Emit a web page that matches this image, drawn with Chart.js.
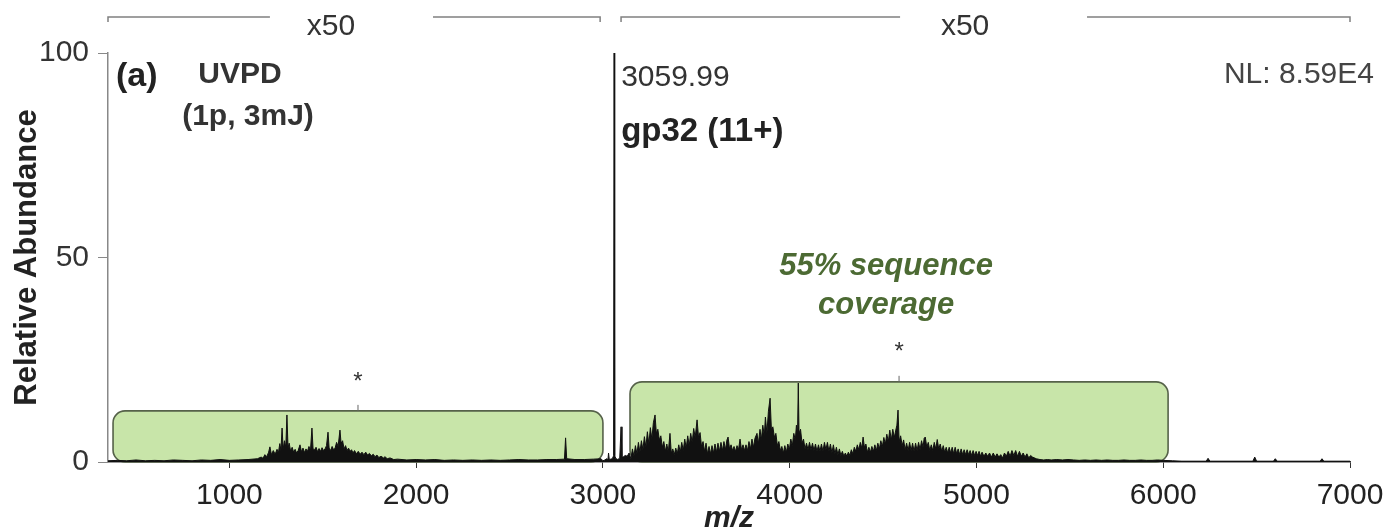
<!DOCTYPE html>
<html>
<head>
<meta charset="utf-8">
<script src="https://cdn.jsdelivr.net/npm/chart.js@4.4.1/dist/chart.umd.min.js"></script>
<style>
  html, body { margin: 0; padding: 0; background: #ffffff; }
  #wrap { width: 1396px; height: 529px; }
</style>
</head>
<body>
<div id="wrap"><canvas id="spectrum" width="1396" height="529"></canvas></div>
<script>
// UVPD spectrum of gp32 (11+), precursor at m/z 3059.99.
// Abundances are given as displayed (fragment regions shown x50).

const xTickValues = [1000, 2000, 3000, 4000, 5000, 6000, 7000];
const yTickValues = [0, 50, 100];

// low m/z fragment region (x50)
const lowMassPeaks = [
  [350, 0.3], [400, 0.4], [450, 0.3], [500, 0.5], [550, 0.3], [600, 0.4], [650, 0.3], [700, 0.5],
  [750, 0.4], [800, 0.3], [850, 0.5], [900, 0.4], [950, 0.6], [1000, 0.4], [1050, 0.5], [1100, 0.6],
  [1150, 0.8], [1170, 1.2], [1180, 0.9], [1190, 1.8], [1200, 1.3], [1210, 2.4], [1217, 3.7], [1225, 1.8],
  [1235, 2.8], [1245, 1.9], [1255, 3.1], [1262, 2.2], [1270, 4.5], [1276, 2.8], [1282, 8.3], [1288, 3.2],
  [1295, 5.2], [1302, 3.6], [1308, 11.5], [1314, 3.4], [1320, 4.6], [1328, 2.6], [1336, 3.6], [1344, 2.4],
  [1352, 3.1], [1360, 2.2], [1368, 2.8], [1378, 4.2], [1386, 2.5], [1394, 3.4], [1402, 2.3], [1410, 3.2],
  [1418, 2.6], [1426, 3.8], [1434, 2.8], [1442, 8.3], [1448, 3.2], [1456, 3.0], [1464, 3.6], [1472, 2.5],
  [1480, 3.3], [1488, 2.6], [1496, 3.5], [1504, 2.8], [1512, 3.2], [1520, 4.0], [1528, 7.3], [1534, 3.4],
  [1542, 2.8], [1550, 3.8], [1558, 3.0], [1566, 3.4], [1574, 4.8], [1582, 3.8], [1592, 7.8], [1598, 4.6],
  [1606, 5.2], [1614, 3.2], [1622, 4.0], [1630, 2.8], [1638, 3.4], [1646, 2.6], [1654, 3.0], [1662, 2.2],
  [1670, 2.8], [1680, 2.0], [1690, 2.6], [1700, 1.9], [1710, 2.4], [1720, 1.8], [1730, 2.4], [1740, 1.7],
  [1750, 2.1], [1760, 1.5], [1770, 1.9], [1780, 1.3], [1790, 1.7], [1800, 1.1], [1812, 1.4], [1825, 1.0],
  [1833, 1.3], [1845, 0.8], [1860, 1.0], [1880, 0.6], [1900, 0.7], [1950, 0.5], [2000, 0.6], [2050, 0.5],
  [2100, 0.6], [2150, 0.4], [2200, 0.5], [2250, 0.4], [2300, 0.5], [2350, 0.4], [2400, 0.5], [2450, 0.4],
  [2500, 0.5], [2550, 0.6], [2600, 0.5], [2650, 0.5], [2700, 0.6], [2750, 0.6], [2794, 0.7], [2800, 5.9],
  [2806, 0.8], [2850, 0.6], [2900, 0.6], [2950, 0.7], [2990, 0.8]
];

// precursor region (unscaled)
const precursorPeaks = [
  [3000, 0.3], [3010, 0.5], [3020, 0.8], [3027, 0.6], [3030, 2.2], [3034, 0.6], [3050, 0.8],
  [3057, 1.5], [3059.99, 100], [3063, 1.5], [3070, 0.8], [3080, 0.6], [3090, 1.0], [3097, 8.6],
  [3102, 1.0], [3110, 1.3], [3120, 1.6], [3130, 1.4]
];

// high m/z fragment region (x50)
const highMassPeaks = [
  [3140, 2.2], [3150, 0.8], [3158, 3.2], [3166, 1.4], [3174, 4.0], [3182, 2.0], [3190, 4.8], [3198, 2.4],
  [3206, 5.2], [3214, 3.0], [3222, 6.2], [3230, 3.6], [3238, 7.4], [3246, 4.4], [3254, 8.4], [3262, 5.6],
  [3270, 9.6], [3279, 11.5], [3286, 7.0], [3294, 8.0], [3302, 5.4], [3310, 6.4], [3318, 3.6], [3326, 5.0],
  [3334, 2.6], [3342, 4.4], [3350, 2.4], [3359, 7.0], [3366, 2.2], [3374, 3.2], [3382, 1.8], [3390, 3.4],
  [3398, 2.0], [3406, 4.2], [3414, 2.4], [3422, 4.8], [3430, 2.8], [3438, 5.6], [3446, 3.4], [3454, 6.4],
  [3462, 4.0], [3470, 7.0], [3478, 4.8], [3486, 8.2], [3494, 6.0], [3504, 10.3], [3512, 6.0], [3520, 7.2],
  [3528, 3.8], [3536, 5.0], [3544, 2.6], [3552, 4.6], [3560, 2.0], [3568, 3.8], [3576, 2.0], [3584, 4.0],
  [3592, 2.2], [3600, 4.4], [3608, 2.4], [3616, 4.6], [3624, 2.6], [3632, 4.8], [3640, 2.8], [3648, 5.0],
  [3656, 3.0], [3664, 5.4], [3670, 6.1], [3678, 3.2], [3686, 4.2], [3694, 2.8], [3702, 3.8], [3710, 2.6],
  [3718, 4.0], [3726, 3.0], [3734, 5.6], [3742, 3.0], [3750, 4.2], [3758, 2.8], [3766, 4.2], [3774, 2.8],
  [3782, 5.0], [3790, 3.2], [3798, 5.6], [3806, 3.6], [3814, 5.8], [3825, 7.0], [3832, 4.4], [3841, 8.0],
  [3848, 5.4], [3856, 9.0], [3864, 6.4], [3870, 11.0], [3878, 7.0], [3886, 12.4], [3895, 15.6], [3902, 8.0],
  [3910, 8.6], [3918, 6.0], [3926, 7.0], [3934, 4.0], [3942, 5.0], [3950, 2.8], [3958, 3.8], [3966, 2.2],
  [3974, 4.0], [3982, 2.4], [3990, 4.4], [3998, 3.0], [4006, 5.6], [4014, 4.0], [4022, 7.0], [4030, 5.4],
  [4036, 9.0], [4042, 6.6], [4046, 19.3], [4050, 7.0], [4058, 8.0], [4066, 4.6], [4074, 5.6], [4082, 3.2],
  [4090, 4.6], [4098, 3.0], [4106, 4.8], [4114, 3.0], [4122, 4.6], [4130, 2.8], [4138, 4.4], [4146, 2.6],
  [4154, 4.2], [4162, 2.6], [4170, 4.4], [4178, 2.6], [4186, 4.8], [4194, 3.0], [4202, 4.8], [4210, 2.6],
  [4218, 4.4], [4226, 2.2], [4234, 4.2], [4242, 2.0], [4250, 3.6], [4258, 1.8], [4266, 3.2], [4274, 1.6],
  [4282, 2.6], [4290, 1.4], [4298, 2.2], [4306, 1.4], [4314, 2.4], [4322, 1.6], [4330, 3.0], [4338, 2.0],
  [4346, 3.6], [4354, 2.6], [4362, 4.2], [4370, 3.0], [4378, 4.8], [4386, 3.4], [4393, 6.1], [4400, 3.6],
  [4408, 4.4], [4416, 2.4], [4424, 3.6], [4432, 2.4], [4440, 3.8], [4448, 2.6], [4456, 4.2], [4464, 2.8],
  [4472, 4.6], [4480, 3.2], [4488, 5.2], [4496, 3.8], [4504, 6.0], [4512, 4.4], [4520, 6.8], [4528, 5.0],
  [4536, 7.8], [4544, 5.4], [4552, 8.0], [4560, 6.0], [4568, 7.8], [4574, 9.0], [4580, 12.7], [4586, 5.0],
  [4594, 6.4], [4602, 4.0], [4610, 5.4], [4618, 3.0], [4626, 4.6], [4634, 2.8], [4642, 4.8], [4650, 2.8],
  [4658, 4.6], [4666, 2.6], [4674, 4.6], [4682, 2.8], [4690, 4.8], [4698, 3.0], [4706, 5.2], [4714, 3.6],
  [4720, 5.8], [4726, 6.1], [4734, 3.6], [4742, 4.8], [4750, 2.8], [4758, 4.2], [4766, 2.8], [4774, 4.8],
  [4782, 3.2], [4790, 5.5], [4798, 3.2], [4806, 4.4], [4814, 2.6], [4822, 4.0], [4830, 2.4], [4838, 3.6],
  [4846, 2.2], [4854, 3.6], [4862, 2.2], [4870, 3.6], [4878, 2.0], [4886, 3.6], [4894, 2.0], [4902, 3.2],
  [4910, 1.8], [4918, 3.2], [4926, 1.8], [4934, 3.0], [4942, 1.8], [4950, 3.0], [4958, 1.8], [4966, 2.8],
  [4974, 1.6], [4982, 2.8], [4990, 1.6], [4998, 2.6], [5006, 1.6], [5014, 2.6], [5022, 1.4], [5030, 2.4],
  [5040, 1.4], [5050, 2.2], [5060, 1.4], [5070, 2.2], [5080, 1.2], [5090, 2.2], [5100, 1.2], [5110, 2.0],
  [5120, 1.2], [5130, 1.8], [5140, 1.0], [5150, 2.2], [5160, 1.4], [5170, 2.6], [5180, 1.4], [5190, 2.8],
  [5200, 1.6], [5210, 2.8], [5220, 1.4], [5230, 2.6], [5240, 1.4], [5250, 2.2], [5260, 1.2], [5270, 2.0],
  [5280, 1.0], [5290, 1.6], [5300, 1.2], [5320, 0.8], [5340, 0.6], [5360, 0.5], [5380, 0.6], [5400, 0.5],
  [5430, 0.6], [5460, 0.5], [5490, 0.6], [5520, 0.5], [5550, 0.4], [5580, 0.5], [5610, 0.4], [5640, 0.5],
  [5670, 0.4], [5700, 0.5], [5730, 0.4], [5760, 0.4], [5790, 0.5], [5820, 0.4], [5850, 0.4], [5880, 0.5],
  [5910, 0.4], [5940, 0.4], [5970, 0.5], [6000, 0.4], [6050, 0.3], [6100, 0.2], [6230, 0.2], [6240, 0.9],
  [6250, 0.2], [6480, 0.2], [6490, 1.2], [6500, 0.2], [6590, 0.2], [6600, 0.8], [6610, 0.2], [6840, 0.2],
  [6850, 0.8], [6860, 0.2], [7000, 0.2]
];

// sequence-coverage regions
const coverageFrom = [377, 3145];
const coverageTo = [3000, 6026];
const coverageTop = [12.5, 19.6];

// x50 magnified ranges drawn as brackets above the plot
const magnifiedFrom = [350, 3097];
const magnifiedTo = [2985, 7000];
const magnifiedGapFrom = [1217, 4591];
const magnifiedGapTo = [2090, 5592];
const magnifiedLabelAt = [1544, 4939];
const magnifiedLabel = 'x50';

const precursorMz = 3059.99;
const normalizationLevel = 'NL: 8.59E4';

const FONT = "'Liberation Sans', Arial, Helvetica, sans-serif";

const spectrumPoints = lowMassPeaks.concat(precursorPeaks, highMassPeaks)
  .map(([mz, ab]) => ({ x: mz, y: ab }));

function text(ctx, str, x, y, font, color, align) {
  ctx.font = font;
  ctx.fillStyle = color;
  ctx.textAlign = align || 'left';
  ctx.textBaseline = 'middle';
  ctx.fillText(str, x, y);
}

const decorations = {
  id: 'decorations',
  beforeDatasetsDraw(chart) {
    const { ctx, scales: { x, y } } = chart;
    ctx.save();
    for (let i = 0; i < coverageFrom.length; i++) {
      const l = x.getPixelForValue(coverageFrom[i]);
      const r = x.getPixelForValue(coverageTo[i]);
      const t = y.getPixelForValue(coverageTop[i]);
      const b = y.getPixelForValue(0);
      ctx.beginPath();
      ctx.roundRect(l, t, r - l, b - t, 12);
      ctx.fillStyle = '#c8e5a9';
      ctx.fill();
      ctx.lineWidth = 1.6;
      ctx.strokeStyle = '#56624a';
      ctx.stroke();
      // marker and asterisk at the box centre
      const cx = (l + r) / 2;
      ctx.beginPath();
      ctx.moveTo(cx, t);
      ctx.lineTo(cx, t - 6);
      ctx.lineWidth = 1;
      ctx.strokeStyle = '#666';
      ctx.stroke();
      text(ctx, '*', cx, t - 29, `24px ${FONT}`, '#333', 'center');
    }
    ctx.restore();
  },
  afterDraw(chart) {
    const { ctx, chartArea: area, scales: { x, y } } = chart;
    ctx.save();
    // magnification brackets
    const by = 17;
    ctx.strokeStyle = '#808080';
    ctx.lineWidth = 1.5;
    for (let i = 0; i < magnifiedFrom.length; i++) {
      const l = x.getPixelForValue(magnifiedFrom[i]);
      const r = x.getPixelForValue(magnifiedTo[i]);
      const g1 = x.getPixelForValue(magnifiedGapFrom[i]);
      const g2 = x.getPixelForValue(magnifiedGapTo[i]);
      ctx.beginPath();
      ctx.moveTo(l, by + 5); ctx.lineTo(l, by); ctx.lineTo(g1, by);
      ctx.moveTo(g2, by); ctx.lineTo(r, by); ctx.lineTo(r, by + 5);
      ctx.stroke();
      text(ctx, magnifiedLabel, x.getPixelForValue(magnifiedLabelAt[i]), 27, `30px ${FONT}`, '#333', 'center');
    }

    // panel and method labels
    text(ctx, '(a)', area.left + 8, 77, `bold 34px ${FONT}`, '#222');
    text(ctx, 'UVPD', 240, 75, `bold 30px ${FONT}`, '#333', 'center');
    text(ctx, '(1p, 3mJ)', 248, 117, `bold 30px ${FONT}`, '#333', 'center');

    // precursor annotation
    const px = x.getPixelForValue(precursorMz);
    text(ctx, precursorMz.toFixed(2), px + 7, 78, `30px ${FONT}`, '#333');
    text(ctx, 'gp32 (11+)', px + 7, 132, `bold 33px ${FONT}`, '#222');

    text(ctx, normalizationLevel, area.right + 24, 75, `30px ${FONT}`, '#444', 'right');

    // coverage note
    const cx = (x.getPixelForValue(coverageFrom[1]) + x.getPixelForValue(coverageTo[1])) / 2 - 13;
    text(ctx, '55% sequence', cx, 266, `italic bold 31px ${FONT}`, '#4c6a33', 'center');
    text(ctx, 'coverage', cx, 305, `italic bold 31px ${FONT}`, '#4c6a33', 'center');
    ctx.restore();
  }
};

new Chart(document.getElementById('spectrum'), {
  type: 'line',
  data: {
    datasets: [{
      data: spectrumPoints,
      borderColor: '#111',
      backgroundColor: '#111',
      borderWidth: 1,
      pointRadius: 0,
      tension: 0,
      fill: 'origin'
    }]
  },
  options: {
    responsive: false,
    animation: false,
    devicePixelRatio: 1,
    layout: { padding: { top: 53, right: 46, left: 0, bottom: 0 } },
    plugins: { legend: { display: false }, tooltip: { enabled: false } },
    scales: {
      x: {
        type: 'linear',
        min: 350,
        max: 7000,
        afterBuildTicks: (s) => { s.ticks = xTickValues.map(v => ({ value: v })); },
        afterFit: (s) => { s.height = 67; },
        border: { display: true, color: '#333', width: 1.5 },
        grid: { drawOnChartArea: false, drawTicks: true, tickLength: 6, color: '#333' },
        ticks: {
          font: { family: FONT, size: 30 }, color: '#222', padding: 10, maxRotation: 0, autoSkip: false,
          callback: (v) => String(v)
        },
        title: {
          display: true,
          text: 'm/z',
          font: { family: FONT, size: 30, weight: 'bold', style: 'italic', lineHeight: 0.7 },
          color: '#222',
          padding: { top: 0, bottom: 0 }
        }
      },
      y: {
        min: 0,
        max: 100,
        afterBuildTicks: (s) => { s.ticks = yTickValues.map(v => ({ value: v })); },
        afterFit: (s) => { s.width = 108; },
        border: { display: true, color: '#888', width: 1.5 },
        grid: { drawOnChartArea: false, drawTicks: true, tickLength: 10, color: '#888' },
        ticks: { font: { family: FONT, size: 30 }, color: '#333', padding: 9, callback: (v) => String(v) },
        title: {
          display: true,
          text: 'Relative Abundance',
          font: { family: FONT, size: 31, weight: 'bold', lineHeight: 1.2 },
          color: '#222',
          padding: { top: 9, bottom: 0 }
        }
      }
    }
  },
  plugins: [decorations]
});
</script>
</body>
</html>
